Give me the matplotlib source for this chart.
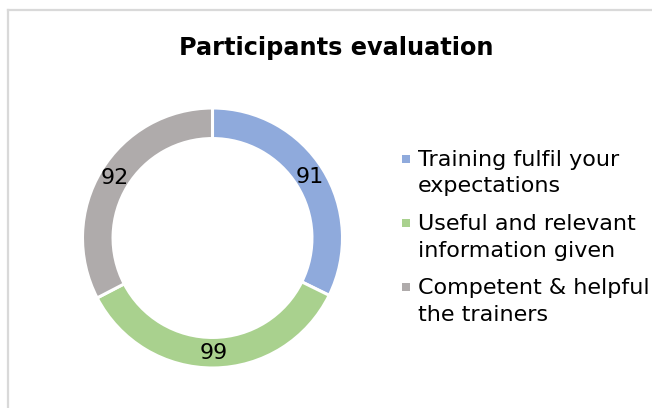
import matplotlib
matplotlib.use("Agg")
import matplotlib.pyplot as plt
from matplotlib.patches import Rectangle, Patch
from matplotlib.legend_handler import HandlerBase
from matplotlib.lines import Line2D
import numpy as np

# ---- data ----
categories = ["Training fulfil your\nexpectations",
              "Useful and relevant\ninformation given",
              "Competent & helpful\nthe trainers"]
values = [91, 99, 92]
colors = ["#8FAADC", "#A9D18E", "#AFABAB"]
title = "Participants evaluation"

FONT = "DejaVu Sans"
plt.rcParams['font.family'] = [FONT]

W, H = 652, 408
fig = plt.figure(figsize=(W / 100, H / 100), dpi=100)

# border (top and left lines like the reference crop)
fig.add_artist(Line2D([7.5 / W, 1.0], [1 - 9.5 / H, 1 - 9.5 / H], transform=fig.transFigure,
                      color="#D9D9D9", lw=1.6))
fig.add_artist(Line2D([7.5 / W, 7.5 / W], [0.0, 1 - 9.5 / H], transform=fig.transFigure,
                      color="#D9D9D9", lw=1.6))

# donut axes: center (212, 238), radius 130 px
cx, cy, r = 212.5, 238, 130
ax = fig.add_axes([(cx - r) / W, 1 - (cy + r) / H, 2 * r / W, 2 * r / H])
ring = 0.235
wedges, _ = ax.pie(values, colors=colors, startangle=90, counterclock=False,
                   radius=1.0, wedgeprops=dict(width=ring, edgecolor="white", linewidth=2.2))
ax.set_xlim(-1, 1)
ax.set_ylim(-1, 1)
ax.set_aspect("equal")

rl = 1 - ring / 2
for w, v in zip(wedges, values):
    ang = np.deg2rad((w.theta1 + w.theta2) / 2)
    ax.text(rl * np.cos(ang), rl * np.sin(ang), str(v), ha="center", va="center",
            fontsize=16, color="black")

fig.text(336 / W, 1 - 54.5 / H, title, ha="center", va="baseline", fontsize=17.3,
         fontweight="bold", color="black")


class TopSquare(HandlerBase):
    def create_artists(self, legend, orig_handle, xdescent, ydescent, width, height,
                       fontsize, trans):
        s = 0.36 * fontsize
        y0 = -ydescent + height / 2 - s / 2 + 0.66 * fontsize
        rect = Rectangle((-xdescent + width - s, y0), s, s,
                         facecolor=orig_handle.get_facecolor(), edgecolor="none",
                         transform=trans)
        return [rect]


handles = [Patch(facecolor=c) for c in colors]
leg = fig.legend(handles, categories, loc="upper left",
                 bbox_to_anchor=(399 / W, 1 - 150 / H), frameon=False,
                 fontsize=16, handlelength=0.5, handletextpad=0.35, labelspacing=0.8,
                 borderaxespad=0, borderpad=0,
                 handler_map={Patch: TopSquare()})
for t in leg.get_texts():
    t.set_linespacing(1.4)

fig.savefig("out.png", dpi=100, facecolor="white")
